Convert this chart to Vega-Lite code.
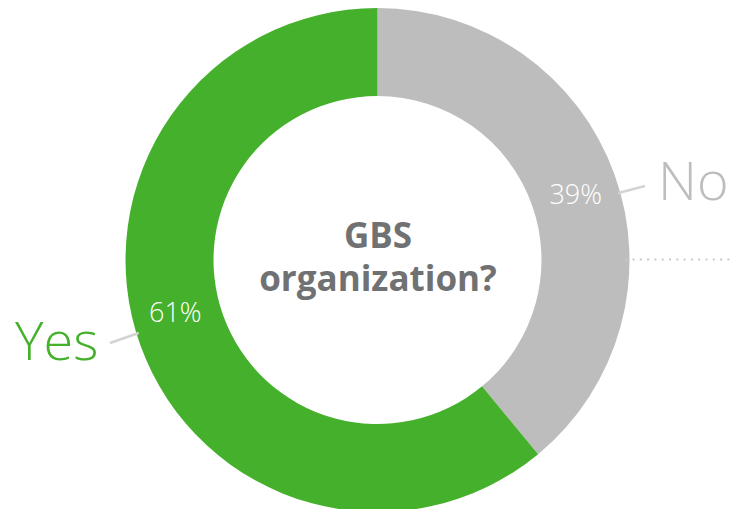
{
  "$schema": "https://vega.github.io/schema/vega-lite/v6.json",
  "width": 733,
  "height": 509,
  "autosize": {"type": "fit", "contains": "padding"},
  "padding": {"left": 16, "top": 11, "right": 0, "bottom": 0},
  "background": "white",
  "config": {"view": {"stroke": null}, "font": "Open Sans"},
  "datasets": {
    "slices": [
      {"answer": "No", "pct": 39, "ord": 1},
      {"answer": "Yes", "pct": 61, "ord": 2}
    ],
    "pctLabels": [
      {"answer": "No", "text": "39%", "x": 575, "y": 204},
      {"answer": "Yes", "text": "61%", "x": 170, "y": 322}
    ],
    "catLabels": [
      {"answer": "No", "text": "No", "x": 694, "y": 200},
      {"answer": "Yes", "text": "Yes", "x": 50, "y": 360}
    ],
    "leaders": [
      {"answer": "No", "x": 618, "y": 193, "x2": 645, "y2": 186},
      {"answer": "Yes", "x": 104, "y": 343, "x2": 133, "y2": 333}
    ],
    "divider": [{"x": 625, "y": 259.5, "x2": 733}],
    "center": [
      {"text": "GBS", "x": 375, "y": 248},
      {"text": "organization?", "x": 375, "y": 291}
    ]
  },
  "layer": [
    {
      "data": {"name": "slices"},
      "mark": {"type": "arc", "outerRadius": 252, "innerRadius": 164},
      "encoding": {
        "theta": {"field": "pct", "type": "quantitative", "stack": true},
        "order": {"field": "ord", "type": "quantitative"},
        "color": {
          "field": "answer",
          "type": "nominal",
          "scale": {"domain": ["No", "Yes"], "range": ["#bcbdbc", "#45b02b"]},
          "legend": null
        }
      }
    },
    {
      "data": {"name": "divider"},
      "mark": {"type": "rule", "color": "#c9c9c9", "strokeWidth": 2, "strokeDash": [2, 5.3]},
      "encoding": {
        "x": {"field": "x", "type": "quantitative", "scale": {"domain": [16, 733], "nice": false, "zero": false}, "axis": null},
        "x2": {"field": "x2"},
        "y": {"field": "y", "type": "quantitative", "scale": {"domain": [11, 509], "nice": false, "zero": false, "reverse": true}, "axis": null}
      }
    },
    {
      "data": {"name": "leaders"},
      "mark": {"type": "rule", "color": "#d3d3d3", "strokeWidth": 2.5},
      "encoding": {
        "x": {"field": "x", "type": "quantitative", "scale": {"domain": [16, 733], "nice": false, "zero": false}, "axis": null},
        "x2": {"field": "x2"},
        "y": {"field": "y", "type": "quantitative", "scale": {"domain": [11, 509], "nice": false, "zero": false, "reverse": true}, "axis": null},
        "y2": {"field": "y2"}
      }
    },
    {
      "data": {"name": "pctLabels"},
      "mark": {"type": "text", "fontSize": 27, "fontWeight": 300, "align": "center", "baseline": "alphabetic", "color": "white"},
      "encoding": {
        "x": {"field": "x", "type": "quantitative", "scale": {"domain": [16, 733], "nice": false, "zero": false}, "axis": null},
        "y": {"field": "y", "type": "quantitative", "scale": {"domain": [11, 509], "nice": false, "zero": false, "reverse": true}, "axis": null},
        "text": {"field": "text"}
      }
    },
    {
      "data": {"name": "catLabels"},
      "mark": {"type": "text", "fontSize": 54, "fontWeight": 300, "align": "center", "baseline": "alphabetic"},
      "encoding": {
        "x": {"field": "x", "type": "quantitative", "scale": {"domain": [16, 733], "nice": false, "zero": false}, "axis": null},
        "y": {"field": "y", "type": "quantitative", "scale": {"domain": [11, 509], "nice": false, "zero": false, "reverse": true}, "axis": null},
        "text": {"field": "text"},
        "color": {
          "field": "answer",
          "type": "nominal",
          "scale": {"domain": ["No", "Yes"], "range": ["#9c9d9f", "#45b02b"]},
          "legend": null
        }
      }
    },
    {
      "data": {"name": "center"},
      "mark": {"type": "text", "fontSize": 35, "fontWeight": "bold", "align": "center", "baseline": "alphabetic", "color": "#707173"},
      "encoding": {
        "x": {"field": "x", "type": "quantitative", "scale": {"domain": [16, 733], "nice": false, "zero": false}, "axis": null},
        "y": {"field": "y", "type": "quantitative", "scale": {"domain": [11, 509], "nice": false, "zero": false, "reverse": true}, "axis": null},
        "text": {"field": "text"}
      }
    }
  ]
}
